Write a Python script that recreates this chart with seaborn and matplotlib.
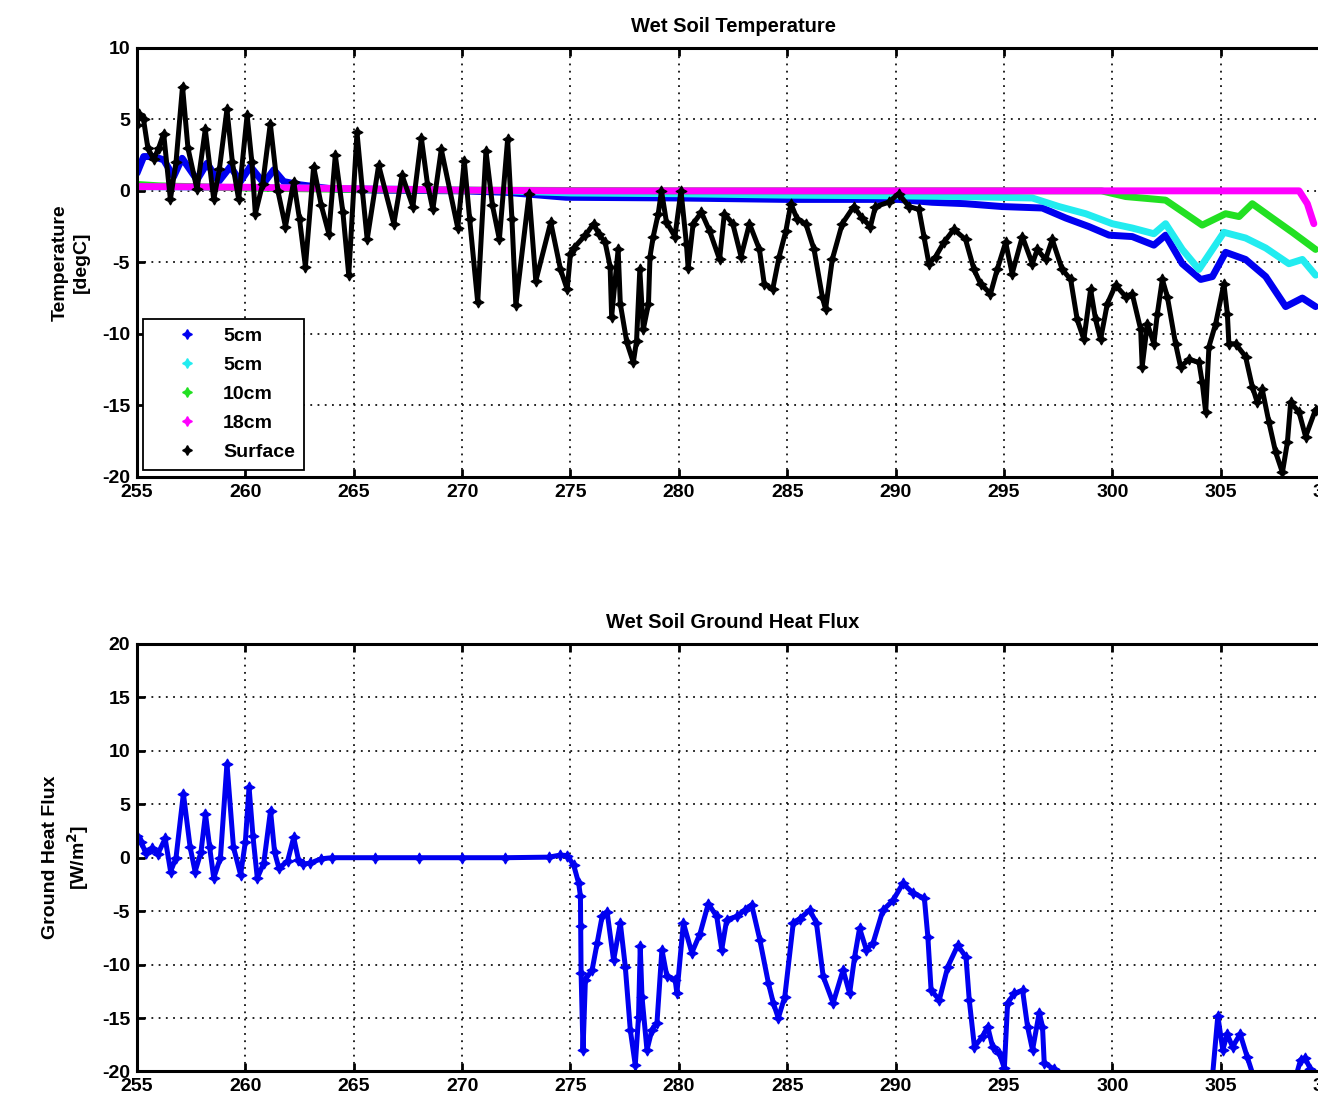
import matplotlib
matplotlib.use("Agg")
import matplotlib.pyplot as plt
from matplotlib.lines import Line2D
import seaborn as sns

# ---- soil temperature (degC) by day of year ----
surface_day = [255.0, 255.1, 255.3, 255.5, 255.77, 256.0, 256.23, 256.54, 256.8, 257.1,
               257.35, 257.77, 258.15, 258.54, 258.8, 259.15, 259.4, 259.69, 260.08, 260.3,
               260.46, 260.8, 261.15, 261.5, 261.85, 262.23, 262.5, 262.77, 263.15, 263.5,
               263.85, 264.15, 264.5, 264.77, 265.15, 265.4, 265.62, 266.15, 266.85, 267.23,
               267.73, 268.12, 268.4, 268.65, 269.04, 269.8, 270.1, 270.35, 270.72, 271.1,
               271.4, 271.72, 272.1, 272.3, 272.48, 273.09, 273.4, 274.09,
               274.54, 274.85, 275.0, 275.15, 275.69, 276.07, 276.3, 276.6, 276.83, 276.9,
               277.2, 277.3, 277.6, 277.9, 278.05, 278.2, 278.36, 278.6, 278.67, 278.82,
               279.05, 279.2, 279.43, 279.82, 280.1, 280.35, 280.43, 280.66, 281.04, 281.42,
               281.88, 282.1, 282.49, 282.87, 283.26, 283.72, 283.94, 284.33, 284.63, 284.94,
               285.17, 285.47, 285.86, 286.24, 286.62, 286.77, 287.08, 287.54, 288.07, 288.46,
               288.84, 289.07, 289.68, 290.14, 290.62, 291.08, 291.31, 291.54, 291.85, 292.23,
               292.69, 293.23, 293.62, 293.92, 294.38, 294.69, 295.08, 295.38, 295.85, 296.31,
               296.54, 296.92, 297.23, 297.69, 298.08, 298.38, 298.69, 299.0, 299.23, 299.46,
               299.77, 300.15, 300.62, 300.92, 301.31, 301.38, 301.62, 301.92, 302.08, 302.31,
               302.54, 302.92, 303.15, 303.54, 304.0, 304.15, 304.31, 304.46, 304.77, 305.15,
               305.31, 305.38, 305.69, 306.15, 306.46, 306.69, 306.92, 307.23, 307.54, 307.85,
               308.08, 308.23, 308.62, 308.92, 309.38]
surface_temp = [4.6, 5.4, 5.0, 3.0, 2.2, 3.0, 4.0, -0.6, 2.0, 7.3,
                3.0, 0.1, 4.3, -0.6, 1.5, 5.7, 2.0, -0.6, 5.3, 2.0,
                -1.6, 0.5, 4.7, 0.0, -2.5, 0.65, -2.0, -5.3, 1.7, -1.0,
                -3.0, 2.5, -1.5, -5.9, 4.1, 0.0, -3.4, 1.8, -2.3, 1.1,
                -1.1, 3.7, 0.5, -1.3, 2.9, -2.6, 2.1, -2.0, -7.8, 2.8,
                -1.0, -3.4, 3.6, -2.0, -8.0, -0.2, -6.3, -2.2,
                -5.5, -6.9, -4.4, -4.0, -3.1, -2.3, -3.0, -3.6, -5.3, -8.8,
                -4.1, -7.9, -10.6, -12.0, -10.5, -5.5, -9.7, -7.9, -4.6, -3.2,
                -1.6, 0.0, -2.2, -3.2, 0.0, -3.7, -5.4, -2.3, -1.5, -2.8,
                -4.8, -1.6, -2.3, -4.6, -2.3, -4.1, -6.5, -6.9, -4.6, -2.8,
                -0.9, -2.0, -2.3, -4.1, -7.4, -8.3, -4.8, -2.3, -1.1, -1.9,
                -2.5, -1.1, -0.8, -0.2, -1.1, -1.3, -3.2, -5.1, -4.6, -3.6,
                -2.7, -3.4, -5.5, -6.5, -7.2, -5.5, -3.6, -5.8, -3.2, -5.1,
                -4.1, -4.8, -3.4, -5.5, -6.2, -9.0, -10.4, -6.9, -9.0, -10.4,
                -7.9, -6.6, -7.4, -7.2, -9.7, -12.3, -9.3, -10.7, -8.6, -6.2,
                -7.4, -10.7, -12.3, -11.8, -12.0, -13.4, -15.5, -10.9, -9.3, -6.5,
                -8.6, -10.7, -10.7, -11.6, -13.7, -14.8, -13.9, -16.2, -18.3, -19.7,
                -17.6, -14.8, -15.5, -17.2, -15.3]

blue5_day = [255.0, 255.31, 255.77, 256.23, 256.69, 257.08, 257.77, 258.23, 258.77, 259.31,
             259.77, 260.23, 260.85, 261.31, 261.77, 262.54, 264.08, 266.0, 270.0, 272.0,
             274.8, 280.0, 285.0, 290.15, 291.69, 293.23, 294.92, 296.77, 297.85, 298.92,
             299.85, 300.92, 301.92, 302.46, 303.23, 304.08, 304.62, 305.23, 306.15, 307.08,
             308.0, 308.77, 309.38]
blue5_temp = [1.24, 2.4, 2.4, 2.17, 1.0, 2.28, 0.77, 1.93, 0.65, 1.7,
              0.65, 1.7, 0.54, 1.47, 0.65, 0.42, 0.12, 0.05, 0.0, -0.1,
              -0.45, -0.5, -0.6, -0.6, -0.8, -0.9, -1.1, -1.2, -1.9, -2.5,
              -3.1, -3.2, -3.8, -3.1, -5.1, -6.2, -6.0, -4.3, -4.8, -6.0,
              -8.1, -7.5, -8.1]

cyan5_day = [255.0, 262.0, 268.0, 272.0, 275.0, 280.0, 285.0, 290.0, 293.0, 296.31,
             297.54, 298.77, 300.0, 300.92, 301.92, 302.46, 303.23, 304.0, 305.15, 306.15,
             307.08, 308.15, 308.77, 309.38]
cyan5_temp = [0.3, 0.2, 0.1, 0.0, -0.15, -0.2, -0.3, -0.35, -0.4, -0.5,
              -1.1, -1.6, -2.3, -2.6, -3.0, -2.3, -4.1, -5.5, -2.9, -3.3,
              -4.0, -5.1, -4.8, -5.9]

green10_day = [255.0, 256.0, 260.0, 265.0, 270.0, 280.0, 290.0, 299.5, 300.62, 302.46,
               303.38, 304.15, 305.23, 305.85, 306.46, 307.38, 308.31, 309.38]
green10_temp = [0.45, 0.35, 0.2, 0.1, 0.05, 0.0, 0.0, 0.0, -0.4, -0.65,
                -1.6, -2.4, -1.6, -1.8, -0.9, -1.9, -2.9, -4.1]

mag18_day = [255.0, 260.0, 265.0, 270.0, 275.0, 290.0, 308.62, 309.0, 309.3]
mag18_temp = [0.3, 0.25, 0.15, 0.05, 0.0, 0.0, 0.0, -0.9, -2.3]

# ---- ground heat flux (W/m^2) by day of year ----
flux_day = [255.0, 255.2, 255.4, 255.7, 255.95, 256.3, 256.55, 256.8, 257.14, 257.45,
            257.68, 257.95, 258.16, 258.35, 258.54, 258.85, 259.15, 259.45, 259.78, 260.0,
            260.17, 260.35, 260.55, 260.85, 261.16, 261.35, 261.55, 261.95, 262.23, 262.45,
            262.65, 263.0, 263.5, 264.0, 266.0, 268.0, 270.0, 272.0, 274.0, 274.54,
            274.85, 275.15, 275.38, 275.46, 275.47, 275.49, 275.58, 275.69, 276.0, 276.23,
            276.46, 276.69, 276.99, 277.3, 277.53, 277.76, 277.99, 278.14, 278.22, 278.3,
            278.53, 278.76, 278.99, 279.22, 279.45, 279.83, 279.91, 280.21, 280.6, 280.98,
            281.36, 281.75, 281.98, 282.21, 282.67, 283.05, 283.36, 283.74, 284.13, 284.36,
            284.59, 284.89, 285.28, 285.58, 286.04, 286.35, 286.66, 287.12, 287.58, 287.88,
            288.11, 288.34, 288.65, 288.96, 289.42, 289.88, 290.34, 290.8, 291.33, 291.49,
            291.64, 292.02, 292.41, 292.87, 293.25, 293.4, 293.64, 294.02, 294.25, 294.48,
            294.79, 295.02, 295.17, 295.48, 295.86, 296.09, 296.32, 296.63, 296.78, 296.86,
            297.32, 297.6, 298.5, 304.6, 304.87, 305.1, 305.3, 305.55, 305.9, 306.22,
            306.6, 307.5, 308.4, 308.69, 308.9, 309.14, 309.4]
flux_value = [2.0, 1.5, 0.4, 0.9, 0.3, 1.8, -1.3, 0.0, 6.0, 1.0,
              -1.3, 0.5, 4.1, 1.0, -1.9, 0.0, 8.8, 1.0, -1.6, 1.5,
              6.6, 2.0, -1.9, -0.5, 4.4, 0.5, -1.0, -0.3, 1.9, -0.2,
              -0.6, -0.5, -0.1, 0.0, 0.0, 0.0, 0.0, 0.0, 0.05, 0.25,
              0.2, -0.7, -2.4, -3.6, -6.4, -10.8, -18.0, -11.4, -10.5, -8.0,
              -5.5, -5.05, -9.6, -6.1, -10.2, -16.1, -19.4, -14.9, -8.3, -13.0,
              -18.0, -16.1, -15.5, -8.6, -11.1, -11.4, -12.7, -6.1, -8.9, -7.1,
              -4.3, -5.5, -8.6, -5.8, -5.5, -4.9, -4.4, -7.7, -11.7, -13.6,
              -15.0, -13.0, -6.1, -5.7, -4.9, -6.1, -11.1, -13.6, -10.5, -12.7,
              -9.3, -6.6, -8.6, -8.0, -4.9, -4.0, -2.4, -3.3, -3.8, -7.4,
              -12.4, -13.3, -10.2, -8.2, -9.3, -13.3, -17.7, -16.7, -15.8, -17.7,
              -18.3, -19.7, -13.6, -12.7, -12.4, -15.8, -18.0, -14.5, -15.8, -19.2,
              -19.8, -21.5, -23.0, -21.0, -14.8, -18.0, -16.5, -17.7, -16.5, -18.6,
              -21.0, -23.0, -21.0, -18.9, -18.7, -19.8, -20.5]

series_labels = ["5cm", "5cm", "10cm", "18cm", "Surface"]
series_colors = ["#0000F0", "#22ECF0", "#22E022", "#FF00FF", "#000000"]
day_ticks = list(range(255, 311, 5))
temp_ticks = list(range(-20, 11, 5))
flux_ticks = list(range(-20, 21, 5))

sns.set_theme(style="white")
plt.rcParams["font.family"] = ["Liberation Sans", "DejaVu Sans"]
plt.rcParams["font.weight"] = "bold"
plt.rcParams["axes.titleweight"] = "bold"
plt.rcParams["axes.labelweight"] = "bold"
plt.rcParams["mathtext.default"] = "bf"
plt.rcParams["text.color"] = "black"
plt.rcParams["axes.labelcolor"] = "black"
plt.rcParams["xtick.color"] = "black"
plt.rcParams["ytick.color"] = "black"
plt.rcParams["legend.labelcolor"] = "black"

STAR = (4, 1, 0)

fig = plt.figure(figsize=(13.18, 11.07), dpi=100)
ax_t = fig.add_axes([0.10395, 0.5694, 0.9044, 0.3873])
ax_f = fig.add_axes([0.10395, 0.0321, 0.9044, 0.3862])


def style_axes(ax, yticks, ylim):
    ax.set_xlim(255, 310)
    ax.set_ylim(*ylim)
    ax.set_xticks(day_ticks)
    ax.set_yticks(yticks)
    ax.set_xticklabels([str(t) for t in day_ticks])
    ax.set_yticklabels([str(t) for t in yticks])
    ax.grid(True, color="#111111", linestyle=(0, (1, 3)), linewidth=1.3)
    ax.set_axisbelow(True)
    for sp in ax.spines.values():
        sp.set_visible(True)
        sp.set_color("black")
        sp.set_linewidth(2.2)
    ax.tick_params(axis="both", which="major", direction="in", length=5.5, width=2.0,
                   top=True, right=True, bottom=True, left=True,
                   labelsize=14, colors="black", pad=5)
    for lab in ax.get_xticklabels() + ax.get_yticklabels():
        lab.set_fontweight("bold")
    ax.set_xlabel("")


trail_kw = dict(linewidth=3.6, marker=STAR, markersize=8, markeredgewidth=0.8,
                estimator=None, sort=False, legend=False,
                solid_joinstyle="round", solid_capstyle="round")

depth_sets = [(blue5_day, blue5_temp), (cyan5_day, cyan5_temp),
              (green10_day, green10_temp), (mag18_day, mag18_temp)]
for (d, t), col in zip(depth_sets, series_colors[:4]):
    sns.lineplot(x=d, y=t, ax=ax_t, color=col, linewidth=5, estimator=None,
                 sort=False, legend=False, solid_capstyle="round",
                 solid_joinstyle="round")

sns.lineplot(x=surface_day, y=surface_temp, ax=ax_t, color="black",
             markeredgecolor="black", **trail_kw)

style_axes(ax_t, temp_ticks, (-20, 10))
ax_t.set_title("Wet Soil Temperature", fontsize=14.5, pad=11.5, color="black")
ax_t.set_ylabel("Temperature\n[degC]", fontsize=14, linespacing=1.3, color="black")
ax_t.yaxis.set_label_coords(-0.0394, 0.5)

handles = [Line2D([], [], linestyle="None", marker=STAR, markersize=7,
                  color=c, markeredgecolor=c) for c in series_colors]
leg = ax_t.legend(handles, series_labels, loc="lower left",
                  bbox_to_anchor=(0.005, 0.0156), borderaxespad=0,
                  frameon=True, fancybox=False, framealpha=1, edgecolor="black",
                  prop={"size": 14, "weight": "bold"},
                  handlelength=3.66, handletextpad=0.0, labelspacing=0.59,
                  borderpad=0.45)
leg.get_frame().set_linewidth(1.3)
for txt in leg.get_texts():
    txt.set_color("black")

sns.lineplot(x=flux_day, y=flux_value, ax=ax_f, color="#0000F0",
             markeredgecolor="#0000F0", **trail_kw)
style_axes(ax_f, flux_ticks, (-20, 20))
ax_f.set_title("Wet Soil Ground Heat Flux", fontsize=14.5, pad=11.5, color="black")
ax_f.set_ylabel("Ground Heat Flux\n[W/m$^{2}$]", fontsize=14, linespacing=1.3,
                color="black")
ax_f.yaxis.set_label_coords(-0.0386, 0.5)

fig.savefig("out.png", dpi=100, facecolor="white")
